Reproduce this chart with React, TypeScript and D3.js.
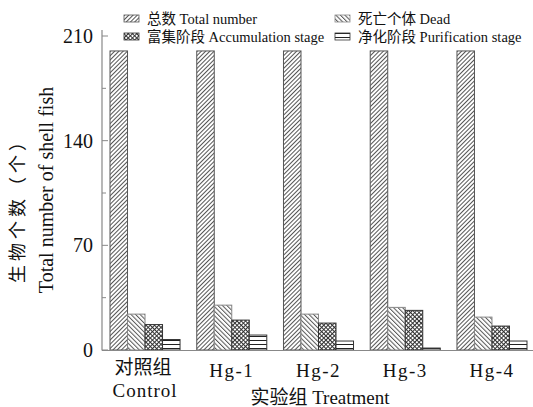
import React from "react";
import * as d3 from "d3";

const groups = ["Control", "Hg-1", "Hg-2", "Hg-3", "Hg-4"];
const groupLabelsCn = ["对照组", "", "", "", ""];
const groupLabelsEn = ["Control", "Hg-1", "Hg-2", "Hg-3", "Hg-4"];
const series = ["total", "dead", "accum", "purif"];
const seriesLabels = ["总数 Total number", "死亡个体 Dead", "富集阶段 Accumulation stage", "净化阶段 Purification stage"];
const totalValues = [200, 200, 200, 200, 200];
const deadValues = [24, 30, 24, 28.5, 22];
const accumValues = [17, 20, 18, 26.5, 16];
const purifValues = [7, 10, 6, 1.3, 6];
const yTicks = [0, 70, 140, 210];
const yMinorTicks = [35, 105, 175];

const W = 533;
const H = 407;
const FONT = '"Liberation Serif", "Noto Sans CJK SC", serif';

export default function App() {
  const values = [totalValues, deadValues, accumValues, purifValues];
  const y = d3.scaleLinear().domain([0, 210]).range([350, 36]);
  const x = d3.scaleBand<string>().domain(groups).range([102, 535]).paddingInner(0.1926).paddingOuter(0.0923);
  const xs = d3.scaleBand<string>().domain(series).range([0, x.bandwidth()]).padding(0);
  const fills = ["url(#pTotal)", "url(#pDead)", "url(#pAccum)", "url(#pPurif)"];
  const strokes = ["#555", "#888", "#333", "#333"];
  const legendPos = [
    { x: 124, y: 15 },
    { x: 335, y: 15 },
    { x: 124, y: 33 },
    { x: 335, y: 33 },
  ];
  const ts: React.CSSProperties = { fontFamily: FONT };
  return (
    <svg width={W} height={H} style={{ position: "absolute", left: 0, top: 0, background: "#fff", fontFamily: FONT }}>
      <defs>
        <pattern id="pTotal" patternUnits="userSpaceOnUse" width={3} height={3} patternTransform="rotate(45)">
          <rect width={3} height={3} fill="#fff" />
          <line x1={0.5} y1={0} x2={0.5} y2={3} stroke="#555" strokeWidth={1} />
        </pattern>
        <pattern id="pDead" patternUnits="userSpaceOnUse" width={3.2} height={3.2} patternTransform="rotate(-45)">
          <rect width={3.2} height={3.2} fill="#fff" />
          <line x1={0.5} y1={0} x2={0.5} y2={3.2} stroke="#555" strokeWidth={1} />
        </pattern>
        <pattern id="pAccum" patternUnits="userSpaceOnUse" width={3} height={3} patternTransform="rotate(45)">
          <rect width={3} height={3} fill="#fff" />
          <line x1={0.5} y1={0} x2={0.5} y2={3} stroke="#333" strokeWidth={1} />
          <line x1={0} y1={0.5} x2={3} y2={0.5} stroke="#333" strokeWidth={1} />
        </pattern>
        <pattern id="pPurif" patternUnits="userSpaceOnUse" width={4} height={4}>
          <rect width={4} height={4} fill="#fff" />
          <line x1={0} y1={0.5} x2={4} y2={0.5} stroke="#222" strokeWidth={1} />
        </pattern>
      </defs>

      {/* bars */}
      {groups.map((g, gi) => (
        <g key={g} transform={`translate(${x(g)},0)`}>
          {series.map((s, si) => {
            const v = values[si][gi];
            return (
              <rect
                key={s}
                x={xs(s)}
                y={y(v)}
                width={xs.bandwidth()}
                height={y(0) - y(v)}
                fill={fills[si]}
                stroke={strokes[si]}
                strokeWidth={1}
              />
            );
          })}
        </g>
      ))}

      {/* axes */}
      <line x1={102} y1={30} x2={102} y2={350.5} stroke="#888" strokeWidth={1.2} />
      <line x1={102} y1={350.5} x2={533} y2={350.5} stroke="#888" strokeWidth={1.2} />
      {yTicks.map((t) => (
        <g key={t}>
          <line x1={102} x2={108} y1={y(t)} y2={y(t)} stroke="#888" strokeWidth={1} />
          <text x={93} y={y(t) + 7} textAnchor="end" fontSize={20} fill="#111" style={ts}>
            {t}
          </text>
        </g>
      ))}
      {yMinorTicks.map((t) => (
        <line key={t} x1={102} x2={106} y1={y(t)} y2={y(t)} stroke="#888" strokeWidth={1} />
      ))}

      {/* x tick labels */}
      {groups.map((g, gi) => {
        const cx = (x(g) as number) + x.bandwidth() / 2;
        return groupLabelsCn[gi] ? (
          <g key={g}>
            <text x={cx - 2} y={374} textAnchor="middle" fontSize={19} fill="#111" style={ts}>
              {groupLabelsCn[gi]}
            </text>
            <text x={cx} y={397} textAnchor="middle" fontSize={19} fill="#111" letterSpacing={1} style={ts}>
              {groupLabelsEn[gi]}
            </text>
          </g>
        ) : (
          <text key={g} x={cx} y={377} textAnchor="middle" fontSize={19} fill="#111" letterSpacing={1.5} style={ts}>
            {groupLabelsEn[gi]}
          </text>
        );
      })}
      <text x={320} y={404} textAnchor="middle" fontSize={19} fill="#111" style={ts}>
        实验组 Treatment
      </text>

      {/* y axis title */}
      <text transform="translate(18,206) rotate(-90)" textAnchor="middle" dominantBaseline="central" fontSize={18} fill="#111" letterSpacing={4} style={ts}>
        生物个数（个）
      </text>
      <text transform="translate(46,190) rotate(-90)" textAnchor="middle" dominantBaseline="central" fontSize={20} fill="#111" style={ts}>
        Total number of shell fish
      </text>

      {/* legend */}
      {series.map((s, si) => (
        <g key={s} transform={`translate(${legendPos[si].x},${legendPos[si].y})`}>
          <rect x={0} y={0} width={15} height={7} fill={fills[si]} stroke={strokes[si]} strokeWidth={0.8} />
          <text x={23} y={8.5} fontSize={14.5} fill="#111" style={ts}>
            {seriesLabels[si]}
          </text>
        </g>
      ))}
    </svg>
  );
}
